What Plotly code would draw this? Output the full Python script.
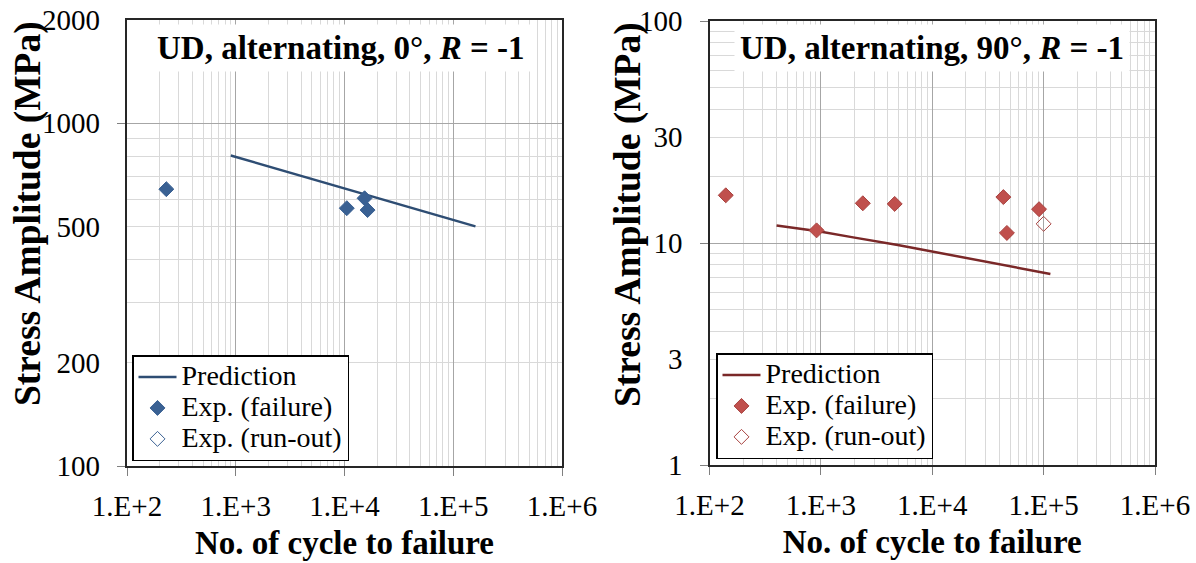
import plotly.graph_objects as go

# ---------------- data ----------------
x_tick_vals = [1e2, 1e3, 1e4, 1e5, 1e6]
x_tick_text = ["1.E+2", "1.E+3", "1.E+4", "1.E+5", "1.E+6"]

left_y_tick_vals = [100, 200, 500, 1000, 2000]
right_y_tick_vals = [1, 3, 10, 30, 100]

series_names = ["Prediction", "Exp. (failure)", "Exp. (run-out)"]

left_pred_x = [900, 160000]
left_pred_y = [805, 500]
left_fail_x = [230, 10500, 15300, 16300]
left_fail_y = [642, 565, 604, 558]
left_runout_x = [None]   # no run-out specimens in this panel (legend entry only)
left_runout_y = [None]

right_pred_x = [400, 950, 1950, 4900, 115000]
right_pred_y = [12.0, 11.3, 10.6, 9.8, 7.25]
right_fail_x = [140, 915, 2380, 4600, 43500, 46800, 91000]
right_fail_y = [16.4, 11.4, 15.1, 15.0, 16.1, 11.1, 14.2]
right_runout_x = [100000]
right_runout_y = [12.2]

left_title = "<b>UD, alternating, 0°, <i>R</i> = -1</b>"
right_title = "<b>UD, alternating, 90°, <i>R</i> = -1</b>"

# ---------------- style ----------------
FONT = "Liberation Serif, Times New Roman, serif"
BLUE_LINE = "#2E4D73"
BLUE_MARK = "#3A6193"
RED_LINE = "#7A2828"
RED_MARK = "#C0504D"
RED_EDGE = "#A8423F"
MAJOR_GRID = "#A6A6A6"
MINOR_GRID = "#D9D9D9"

W, H = 1196, 563
L_DOM_X = [127 / W, 562 / W]
R_DOM_X = [709.5 / W, 1155 / W]
L_DOM_Y = [97 / H, 543 / H]
R_DOM_Y = [98 / H, 542 / H]

x_minor = [m * 10 ** d for d in range(2, 6) for m in range(2, 10)]
left_y_minor = [m * 100 for m in range(2, 10)] + [2000]
right_y_minor = [m * 10 ** d for d in range(0, 2) for m in range(2, 10)]


def lname(s):
    # legend entry text drawn at 28px while the row spacing follows the legend font size
    return '<span style="font-size:28px">' + s + "</span>"


fig = go.Figure()

# Left panel
fig.add_trace(go.Scatter(x=left_pred_x, y=left_pred_y, mode="lines", name=lname(series_names[0]),
                         line=dict(color=BLUE_LINE, width=2.5), xaxis="x", yaxis="y", legend="legend"))
fig.add_trace(go.Scatter(x=left_fail_x, y=left_fail_y, mode="markers", name=lname(series_names[1]),
                         marker=dict(symbol="diamond", size=11.5, color=BLUE_MARK,
                                     line=dict(color=BLUE_MARK, width=1)),
                         xaxis="x", yaxis="y", legend="legend"))
fig.add_trace(go.Scatter(x=left_runout_x, y=left_runout_y, mode="markers", name=lname(series_names[2]),
                         marker=dict(symbol="diamond-open", size=11.5, color=BLUE_MARK,
                                     line=dict(color=BLUE_MARK, width=1)),
                         xaxis="x", yaxis="y", legend="legend"))

# Right panel
fig.add_trace(go.Scatter(x=right_pred_x, y=right_pred_y, mode="lines", name=lname(series_names[0]),
                         line=dict(color=RED_LINE, width=2.5), xaxis="x2", yaxis="y2", legend="legend2"))
fig.add_trace(go.Scatter(x=right_fail_x, y=right_fail_y, mode="markers", name=lname(series_names[1]),
                         marker=dict(symbol="diamond", size=11.5, color=RED_MARK,
                                     line=dict(color=RED_EDGE, width=1)),
                         xaxis="x2", yaxis="y2", legend="legend2"))
fig.add_trace(go.Scatter(x=right_runout_x, y=right_runout_y, mode="markers", name=lname(series_names[2]),
                         marker=dict(symbol="diamond-open", size=11.5, color=RED_EDGE,
                                     line=dict(color=RED_EDGE, width=1)),
                         xaxis="x2", yaxis="y2", legend="legend2"))

# dummy traces to realise the label-only overlay axes
fig.add_trace(go.Scatter(x=[None], y=[None], xaxis="x", yaxis="y3", showlegend=False, hoverinfo="skip"))
fig.add_trace(go.Scatter(x=[None], y=[None], xaxis="x2", yaxis="y4", showlegend=False, hoverinfo="skip"))

tickfont = dict(family=FONT, size=29, color="black")
xtitlefont = dict(family=FONT, size=33, color="black")


def xaxis(domain, anchor):
    return dict(type="log", range=[2, 6], domain=domain, anchor=anchor,
                tickmode="array", tickvals=x_tick_vals, ticktext=x_tick_text,
                ticks="outside", ticklen=8, tickcolor="#808080", tickwidth=1,
                showgrid=True, gridcolor=MAJOR_GRID, gridwidth=1,
                minor=dict(tickmode="array", tickvals=x_minor, showgrid=True,
                           gridcolor=MINOR_GRID, gridwidth=1, ticks=""),
                showline=True, linecolor="#262626", linewidth=1.5, mirror=True,
                tickfont=tickfont, ticklabelstandoff=5, automargin=False,
                title=dict(text="<b>No. of cycle to failure</b>", font=xtitlefont, standoff=10),
                zeroline=False, fixedrange=True)


def ybase(rng, domain, anchor, majors, minors):
    return dict(type="log", range=rng, domain=domain, anchor=anchor,
                tickmode="array", tickvals=majors, showticklabels=False,
                ticks="outside", ticklen=8, tickcolor="#808080", tickwidth=1,
                showgrid=True, gridcolor=MAJOR_GRID, gridwidth=1,
                minor=dict(tickmode="array", tickvals=minors, showgrid=True,
                           gridcolor=MINOR_GRID, gridwidth=1, ticks=""),
                showline=True, linecolor="#262626", linewidth=1.5, mirror=True,
                automargin=False, zeroline=False, fixedrange=True)


def ylabels(rng, overlay, anchor, vals):
    return dict(type="log", range=rng, overlaying=overlay, anchor=anchor, side="left",
                tickmode="array", tickvals=vals, ticktext=[str(v) for v in vals],
                ticks="", showgrid=False, showline=False, zeroline=False,
                tickfont=tickfont, ticklabelstandoff=26, automargin=False, fixedrange=True)


left_rng = [2, 3.30103]
right_rng = [0, 2]

legend_style = dict(font=dict(family=FONT, size=21.5, color="black"),
                    bgcolor="white", bordercolor="black", borderwidth=1.5,
                    xanchor="left", yanchor="bottom", tracegroupgap=0,
                    itemwidth=38)

fig.update_layout(
    width=W, height=H,
    margin=dict(l=0, r=0, t=0, b=0, autoexpand=False),
    paper_bgcolor="white", plot_bgcolor="white",
    font=dict(family=FONT, color="black"),
    xaxis=xaxis(L_DOM_X, "y"),
    yaxis=ybase(left_rng, L_DOM_Y, "x", [100, 1000], left_y_minor),
    xaxis2=xaxis(R_DOM_X, "y2"),
    yaxis2=ybase(right_rng, R_DOM_Y, "x2", [1, 10, 100], right_y_minor),
    yaxis3=ylabels(left_rng, "y", "x", left_y_tick_vals),
    yaxis4=ylabels(right_rng, "y2", "x2", right_y_tick_vals),
    legend=dict(x=132 / W, y=1 - 461 / H, **legend_style),
    legend2=dict(x=716 / W, y=1 - 459 / H, **legend_style),
    showlegend=True,
    annotations=[
        dict(text=left_title, x=341 / W, y=1 - 48 / H, xref="paper", yref="paper",
             showarrow=False, font=dict(family=FONT, size=33, color="black"),
             bgcolor="white", borderpad=5, xanchor="center", yanchor="middle"),
        dict(text=right_title, x=932 / W, y=1 - 48 / H, xref="paper", yref="paper",
             showarrow=False, font=dict(family=FONT, size=33, color="black"),
             bgcolor="white", borderpad=5, xanchor="center", yanchor="middle"),
        dict(text="<b>Stress Amplitude (MPa)</b>", x=28 / W, y=1 - 214 / H,
             xref="paper", yref="paper", showarrow=False, textangle=-90,
             font=dict(family=FONT, size=37.5, color="black"),
             xanchor="center", yanchor="middle"),
        dict(text="<b>Stress Amplitude (MPa)</b>", x=628 / W, y=1 - 215 / H,
             xref="paper", yref="paper", showarrow=False, textangle=-90,
             font=dict(family=FONT, size=37.5, color="black"),
             xanchor="center", yanchor="middle"),
    ],
)

fig.write_html("out.html")
